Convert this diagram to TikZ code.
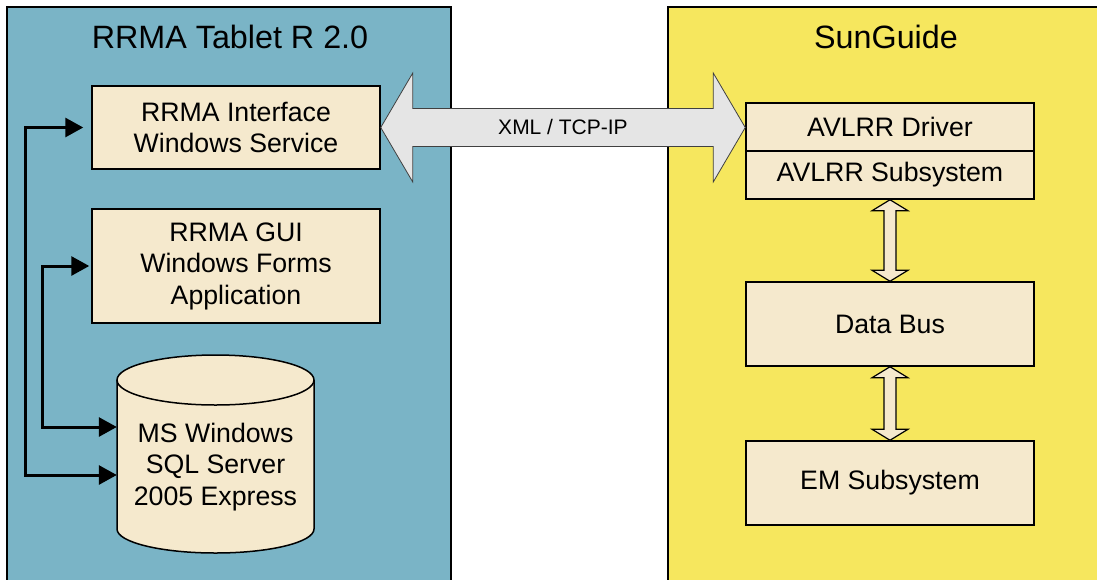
\documentclass[tikz,border=0pt]{standalone}
\usepackage{fontspec}
\setmainfont{Liberation Sans}
\usetikzlibrary{arrows.meta,calc}
\definecolor{panelblue}{HTML}{7AB4C6}
\definecolor{panelyellow}{HTML}{F6E75E}
\definecolor{beige}{HTML}{F5E9CD}
\definecolor{arrowgray}{HTML}{E5E5E5}
\tikzset{
  box/.style={draw=black, line width=1.5pt, fill=beige, align=center, inner sep=0pt,
    minimum width=288pt, font=\fontsize{26.7}{31.5}\selectfont},
  title/.style={font=\fontsize{32.3}{38}\selectfont},
  link/.style={line width=3pt, {Triangle[length=18pt,width=19pt]}-{Triangle[length=18pt,width=19pt]}},
  vbar/.style={draw=black, fill=beige, line width=1.2pt},
}
\newcommand\vdarrow[2]{%
  \draw[vbar] let \p1=(#1), \p2=(#2) in
    (\x1,\y1) -- (\x1+18pt,\y1-11pt) -- (\x1+6pt,\y1-11pt) -- (\x1+6pt,\y2+11pt)
    -- (\x1+18pt,\y2+11pt) -- (\x1,\y2) -- (\x1-18pt,\y2+11pt) -- (\x1-6pt,\y2+11pt)
    -- (\x1-6pt,\y1-11pt) -- (\x1-18pt,\y1-11pt) -- cycle;}
\begin{document}
\begin{tikzpicture}[x=1pt,y=-1pt]
\useasboundingbox (0,0) rectangle (1097,579);
\fill[white] (0,0) rectangle (1097,579);
% panels
\draw[fill=panelblue, line width=1.5pt] (7,600) -- (7,7) -- (451,7) -- (451,600);
\draw[fill=panelyellow, line width=1.5pt] (668,600) -- (668,7) -- (1120,7) -- (1120,600);
\node[title] (ttl1) at (230,37) {RRMA Tablet R 2.0};
\node[title] (ttl2) at (886,37) {SunGuide};
% left boxes
\node[box, minimum height=83pt] (iface) at (236,127.5) {RRMA Interface\\Windows Service};
\node[box, minimum height=114pt] (gui) at (236,266) {RRMA GUI\\Windows Forms\\Application};
% cylinder
\fill[beige] (117,380) rectangle (314,529);
\fill[beige] (215.5,529) ellipse[x radius=98.5pt, y radius=24pt];
\draw[line width=1.5pt] (117,380) -- (117,529) arc[start angle=180, end angle=360, x radius=98.5pt, y radius=24pt] -- (314,380);
\draw[line width=1.5pt, fill=beige] (215.5,380) ellipse[x radius=98.5pt, y radius=25pt];
\node[align=center, inner sep=0pt, minimum width=197pt, font=\fontsize{26.7}{31.5}\selectfont] (db) at (215.5,467) {MS Windows\\SQL Server\\2005 Express};
\coordinate (db1) at (db.west |- 0,427);
\coordinate (db2) at (db.west |- 0,475);
% connectors
\draw[link, shorten <=8pt] (iface.west) -- ++(-66,0) |- (db2);
\draw[link, shorten <=2pt] (gui.west) -- ++(-49,0) |- (db1);
% right boxes
\node[box, minimum height=48pt] (avl) at (890,127) {AVLRR Driver};
\node[box, minimum height=48pt] (avlsub) at (890,175) {AVLRR Subsystem};
\node[box, minimum height=84pt] (bus) at (890,324) {Data Bus};
\node[box, minimum height=84pt] (em) at (890,483) {EM Subsystem};
% vertical double arrows
\vdarrow{avlsub.south}{bus.north}
\vdarrow{bus.south}{em.north}
% big double arrow
\draw[fill=arrowgray, draw=black!75, line width=0.8pt] let \p1=(iface.east), \p2=(avl.west) in
  (\x1,\y1) -- (\x1+32pt,\y1+54.5pt) -- (\x1+32pt,\y1+19pt) -- (\x2-32pt,\y1+19pt)
  -- (\x2-32pt,\y1+54.5pt) -- (\x2,\y1) -- (\x2-32pt,\y1-54.5pt) -- (\x2-32pt,\y1-19pt)
  -- (\x1+32pt,\y1-19pt) -- (\x1+32pt,\y1-54.5pt) -- cycle;
\node[font=\fontsize{21}{25}\selectfont] (xml) at ($(iface.east)!0.5!(avl.west)$) {XML / TCP-IP};
\end{tikzpicture}
\end{document}
